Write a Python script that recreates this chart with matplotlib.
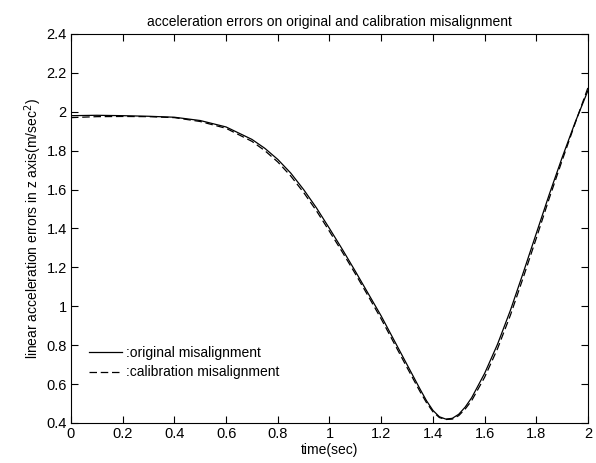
import numpy as np
import matplotlib
matplotlib.use("Agg")
import matplotlib.pyplot as plt

plt.rcParams['font.family'] = ['Liberation Sans', 'DejaVu Sans']

# time samples (sec)
t = [0.0, 0.1, 0.2, 0.3, 0.4, 0.5, 0.6, 0.7, 0.75, 0.8, 0.85, 0.9, 0.95,
     1.0, 1.05, 1.1, 1.15, 1.2, 1.25, 1.3, 1.35, 1.375, 1.4, 1.425, 1.45,
     1.475, 1.5, 1.525, 1.55, 1.6, 1.65, 1.7, 1.75, 1.8, 1.85, 1.9, 1.95, 2.0]

# original misalignment
orig = [1.980, 1.982, 1.980, 1.977, 1.972, 1.955, 1.922, 1.858, 1.812, 1.755,
        1.685, 1.600, 1.505, 1.400, 1.292, 1.180, 1.065, 0.950, 0.825, 0.700,
        0.575, 0.515, 0.465, 0.432, 0.420, 0.424, 0.445, 0.482, 0.530, 0.655,
        0.805, 0.980, 1.175, 1.375, 1.575, 1.765, 1.945, 2.110]

# calibration misalignment
calib = [1.970, 1.975, 1.976, 1.975, 1.970, 1.950, 1.915, 1.848, 1.800, 1.742,
         1.670, 1.585, 1.490, 1.385, 1.278, 1.167, 1.052, 0.935, 0.810, 0.685,
         0.562, 0.505, 0.458, 0.428, 0.418, 0.420, 0.438, 0.472, 0.515, 0.635,
         0.782, 0.955, 1.150, 1.350, 1.555, 1.750, 1.940, 2.125]

fig = plt.figure(figsize=(5.96, 4.63), dpi=100)
ax = fig.add_axes([0.1191, 0.0864, 0.8675, 0.8402])

ax.plot(t, orig, color='black', linewidth=0.9, linestyle='-', label=':original misalignment')
ax.plot(t, calib, color='black', linewidth=0.9, linestyle=(0, (6, 3)), label=':calibration misalignment')

ax.set_xlim(0, 2)
ax.set_ylim(0.4, 2.4)
ax.set_xticks(np.arange(0, 2.01, 0.2))
ax.set_yticks(np.arange(0.4, 2.41, 0.2))
ax.set_xticklabels(['0', '0.2', '0.4', '0.6', '0.8', '1', '1.2', '1.4', '1.6', '1.8', '2'])
ax.set_yticklabels(['0.4', '0.6', '0.8', '1', '1.2', '1.4', '1.6', '1.8', '2', '2.2', '2.4'])
ax.tick_params(direction='in', top=True, right=True, length=5, width=0.8,
               labelsize=10.5, pad=3)
for s in ax.spines.values():
    s.set_linewidth(0.8)

ax.set_title('acceleration errors on original and calibration misalignment', fontsize=10, pad=6)
ax.set_xlabel('time(sec)', fontsize=10, labelpad=1)
ax.set_ylabel('linear acceleration errors in z axis(m/sec$^2$)', fontsize=10, labelpad=2)

ax.legend(loc='lower left', bbox_to_anchor=(0.01, 0.08), frameon=False,
          fontsize=10, handlelength=2.4, handletextpad=0.3, labelspacing=0.4)

fig.savefig('out.png', dpi=100)
